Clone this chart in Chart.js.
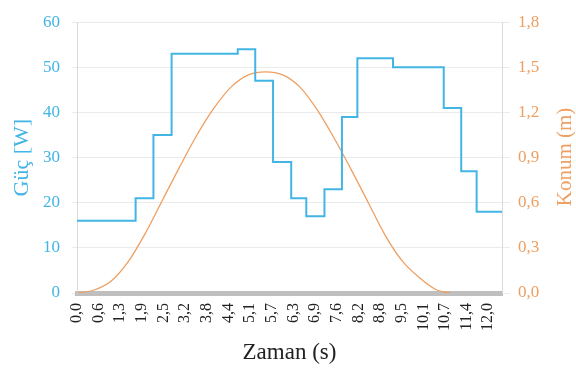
<!DOCTYPE html>
<html>
<head>
<meta charset="utf-8">
<script src="https://cdn.jsdelivr.net/npm/chart.js@4"></script>
<style>
  body { margin: 0; background: #fff; }
  #wrap { width: 576px; height: 374px; }
</style>
</head>
<body>
<div id="wrap"><canvas id="chart" width="576" height="374"></canvas></div>
<script>
// Power (step) series: time the level starts [s] and level [W]
const stepTimes = [0, 1.71, 2.23, 2.76, 4.69, 5.2, 5.72, 6.25, 6.69, 7.22, 7.73, 8.18, 9.22, 10.7, 11.21, 11.66];
const powerW    = [16, 21, 35, 53, 54, 47, 29, 21, 17, 23, 39, 52, 50, 41, 27, 18];

// Position series [s] -> [m]
const posTimes = [0, 0.5, 1.0, 1.5, 2.0, 2.5, 3.0, 3.5, 4.0, 4.5, 5.0, 5.5, 6.0, 6.5, 7.0, 7.5, 8.0, 8.5, 9.0, 9.5, 10.0, 10.5, 10.9];
const posM     = [0, 0.02, 0.08, 0.21, 0.40, 0.62, 0.84, 1.05, 1.23, 1.37, 1.45, 1.47, 1.45, 1.37, 1.22, 1.03, 0.82, 0.60, 0.38, 0.21, 0.10, 0.02, 0.0];

const xEnd = 12.4;
const xTickLabels = ['0,0', '0,6', '1,3', '1,9', '2,5', '3,2', '3,8', '4,4', '5,1', '5,7',
                     '6,3', '6,9', '7,6', '8,2', '8,8', '9,5', '10,1', '10,7', '11,4', '12,0'];
const leftTickLabels  = ['0', '10', '20', '30', '40', '50', '60'];
const rightTickLabels = ['0,0', '0,3', '0,6', '0,9', '1,2', '1,5', '1,8'];

const BLUE = '#42b5e5';
const ORANGE = '#ee9f62';
const FONT = 'Liberation Serif';

const powerPoints = stepTimes.map((t, i) => ({ x: t, y: powerW[i] }));
powerPoints.push({ x: xEnd, y: powerW[powerW.length - 1] });
const posPoints = posTimes.map((t, i) => ({ x: t, y: posM[i] }));

// right axis title reads bottom-to-top, like the left one
const rightTitle = {
    id: 'rightTitle',
    afterDraw(chart) {
        const ctx = chart.ctx;
        ctx.save();
        ctx.translate(565, 157);
        ctx.rotate(-Math.PI / 2);
        ctx.fillStyle = ORANGE;
        ctx.font = '21px "' + FONT + '"';
        ctx.textAlign = 'center';
        ctx.textBaseline = 'middle';
        ctx.fillText('Konum (m)', 0, 0);
        ctx.restore();
    }
};

new Chart(document.getElementById('chart').getContext('2d'), {
    type: 'line',
    data: {
        datasets: [
            {
                label: 'Güç',
                data: powerPoints,
                yAxisID: 'y',
                borderColor: BLUE,
                borderWidth: 2,
                stepped: 'before',
                pointRadius: 0
            },
            {
                label: 'Konum',
                data: posPoints,
                yAxisID: 'y1',
                borderColor: ORANGE,
                borderWidth: 1.3,
                cubicInterpolationMode: 'monotone',
                pointRadius: 0
            }
        ]
    },
    plugins: [rightTitle],
    options: {
        responsive: false,
        animation: false,
        layout: { padding: { top: 13, left: 0, right: 0, bottom: 0 } },
        plugins: {
            legend: { display: false },
            tooltip: { enabled: false }
        },
        scales: {
            x: {
                type: 'linear',
                min: 0,
                max: xEnd,
                afterBuildTicks: scale => {
                    scale.ticks = xTickLabels.map((l, i) => ({ value: i * 12 / (xTickLabels.length - 1) }));
                },
                afterFit: scale => { scale.height = 81; },
                grid: { display: false, drawTicks: false },
                border: { display: true, color: '#bfbfbf', width: 5 },
                ticks: {
                    autoSkip: false,
                    minRotation: 90,
                    maxRotation: 90,
                    padding: 10,
                    color: '#222',
                    font: { family: FONT, size: 16 },
                    callback: (v, i) => xTickLabels[i]
                },
                title: {
                    display: true,
                    text: 'Zaman (s)',
                    color: '#222',
                    font: { family: FONT, size: 23 },
                    padding: { top: 0, bottom: 7 }
                }
            },
            y: {
                position: 'left',
                min: 0,
                max: 60,
                afterFit: scale => { scale.width = 77; },
                afterBuildTicks: scale => {
                    scale.ticks = leftTickLabels.map((l, i) => ({ value: i * 10 }));
                },
                grid: { color: '#ebebeb', tickLength: 5 },
                border: { display: true, color: '#d9d9d9' },
                ticks: {
                    padding: 12,
                    color: BLUE,
                    font: { family: FONT, size: 17 },
                    callback: (v, i) => leftTickLabels[i]
                },
                title: {
                    display: true,
                    text: 'Güç [W]',
                    color: BLUE,
                    font: { family: FONT, size: 22 },
                    padding: { top: 9, bottom: 0 }
                }
            },
            y1: {
                position: 'right',
                min: 0,
                max: 1.8,
                afterFit: scale => { scale.width = 74; },
                afterBuildTicks: scale => {
                    scale.ticks = rightTickLabels.map((l, i) => ({ value: i * 0.3 }));
                },
                grid: { drawOnChartArea: false, color: '#ebebeb', tickLength: 8 },
                border: { display: true, color: '#d9d9d9' },
                ticks: {
                    padding: 8,
                    color: ORANGE,
                    font: { family: FONT, size: 17 },
                    callback: (v, i) => rightTickLabels[i]
                },
                title: { display: false }
            }
        }
    }
});
</script>
</body>
</html>
